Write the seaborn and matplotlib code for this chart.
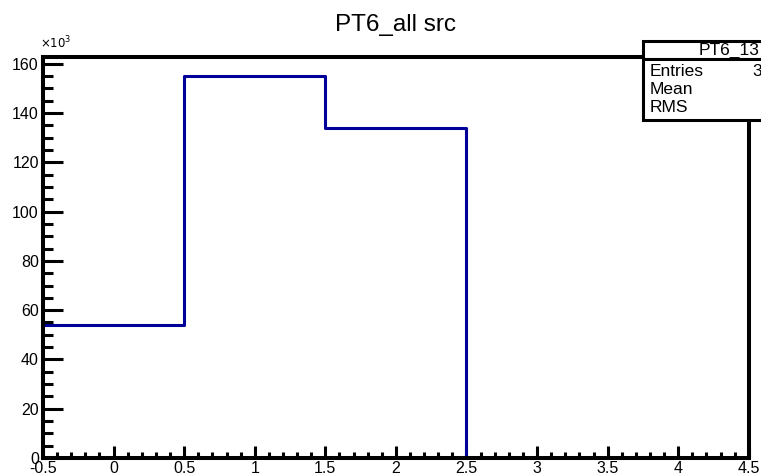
import matplotlib
matplotlib.use("Agg")
import matplotlib.pyplot as plt
import seaborn as sns
from matplotlib.ticker import MultipleLocator, FuncFormatter
from matplotlib.patches import Rectangle
from matplotlib.lines import Line2D

# histogram contents, one entry per integer bin
bin_centers = [0, 1, 2, 3, 4]
bin_counts = [54000, 155000, 134000, 0, 0]
bin_edges = [-0.5, 0.5, 1.5, 2.5, 3.5, 4.5]

title = "PT6_all src"
stats_name = "PT6_13"
stats_rows = ["Entries", "Mean", "RMS"]
stats_vals = ["343000", "", ""]

sns.set_style("white")
plt.rcParams['font.family'] = ['Liberation Sans', 'DejaVu Sans']
plt.rcParams['text.color'] = 'black'
plt.rcParams['xtick.color'] = 'black'
plt.rcParams['ytick.color'] = 'black'

fig = plt.figure(figsize=(7.61, 4.75), dpi=100)
ax = fig.add_axes([0.0565, 0.0358, 0.9275, 0.8442])

sns.histplot(x=bin_centers, weights=bin_counts, bins=bin_edges, element="step",
             fill=False, color="#000099", linewidth=2.2, ax=ax)

ax.set_xlim(-0.5, 4.5)
ax.set_ylim(0, max(bin_counts) * 1.05)
ax.set_xlabel("")
ax.set_ylabel("")

for s in ax.spines.values():
    s.set_visible(True)
    s.set_linewidth(2.9)
    s.set_color("black")

ax.xaxis.set_major_locator(MultipleLocator(0.5))
ax.xaxis.set_minor_locator(MultipleLocator(0.1))
ax.yaxis.set_major_locator(MultipleLocator(20000))
ax.yaxis.set_minor_locator(MultipleLocator(5000))
ax.yaxis.set_major_formatter(FuncFormatter(lambda v, p: f"{v/1000:g}"))
ax.xaxis.set_major_formatter(FuncFormatter(lambda v, p: f"{v:g}"))

ax.tick_params(which="both", bottom=True, left=True, top=False, right=False)
ax.tick_params(axis="y", which="major", direction="in", length=14.4, width=2.2,
               labelsize=11.5, pad=3)
ax.tick_params(axis="y", which="minor", direction="in", length=7.2, width=2.2)
ax.tick_params(axis="x", which="major", direction="in", length=8.6, width=2.2,
               labelsize=11.5, pad=2)
ax.tick_params(axis="x", which="minor", direction="in", length=4.3, width=2.2)

fig.text(0.52, 0.948, title, ha="center", va="center", fontsize=17.5)
fig.text(0.052, 0.893, r"$\times10^{3}$", ha="left", va="bottom", fontsize=8.5)

# stats box, runs off the right edge like the original
W, H = 761, 475
box_left, box_top, box_bot, head_bot = 643, 41, 120, 59
fig.patches.append(Rectangle((box_left / W, 1 - box_bot / H), (W + 20 - box_left) / W,
                             (box_bot - box_top) / H, transform=fig.transFigure,
                             facecolor="white", edgecolor="black", linewidth=2.2,
                             zorder=5))
fig.lines.append(Line2D([box_left / W, 1.0], [1 - head_bot / H] * 2,
                        transform=fig.transFigure, color="black", linewidth=2.2,
                        zorder=6))
fig.text(699 / W, 1 - 50 / H, stats_name, ha="left", va="center", fontsize=12.5, zorder=7)
for i, (lab, val) in enumerate(zip(stats_rows, stats_vals)):
    y = 1 - (71 + i * 18) / H
    fig.text(650 / W, y, lab, ha="left", va="center", fontsize=12.5, zorder=7)
    fig.text(752 / W, y, val, ha="left", va="center", fontsize=12.5, zorder=7)

fig.savefig("out.png", dpi=100)
